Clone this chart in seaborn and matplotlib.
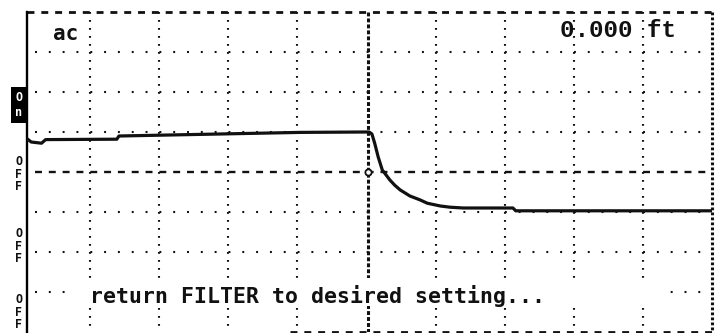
import matplotlib
matplotlib.use("Agg")
import matplotlib.pyplot as plt
import seaborn as sns
import pandas as pd
from matplotlib.patches import Rectangle

# Trace read in screen divisions (x: horizontal divisions, y: vertical divisions from centre)
trace_x = [-0.90, -0.85, -0.70, -0.64, 0.39, 0.42, 2.17, 3.04, 3.98, 4.04, 4.08, 4.12,
           4.17, 4.23, 4.34, 4.41, 4.49, 4.63, 4.78, 4.88, 5.07, 5.21, 5.40, 6.12, 6.16, 9.00]
trace_y = [0.82, 0.75, 0.72, 0.81, 0.82, 0.90, 0.96, 0.99, 1.00, 1.00, 0.95, 0.72,
           0.38, 0.05, -0.20, -0.33, -0.45, -0.60, -0.70, -0.78, -0.85, -0.88, -0.90, -0.90, -0.97, -0.97]

mode_label = "ac"
distance_label = "0.000 ft"
status_message = "return FILTER to desired setting..."
channel_labels = ["On", "OFF", "OFF", "OFF"]
channel_levels = [1.675, -0.05, -1.85, -3.5]

grid_x = [0, 1, 2, 3, 5, 6, 7, 8]
cursor_x = 4
grid_y = [3, 2, 1, -1, -2, -3]

sns.set_theme(style="white")
plt.rcParams["font.family"] = ["DejaVu Sans Mono", "DejaVu Sans"]
plt.rcParams["lines.scale_dashes"] = False

fig = plt.figure(figsize=(7.18, 3.33), dpi=100)
fig.patch.set_facecolor("white")
ax = fig.add_axes([27 / 718, 1 / 333, 685 / 718, 320 / 333])
ax.set_facecolor("white")
ax.set_xlim(-0.91, 9.0)
ax.set_ylim(-4, 4)
ax.set_xticks([])
ax.set_yticks([])
for side in ("top", "right", "bottom"):
    ax.spines[side].set_visible(False)
ax.spines["left"].set_color("black")
ax.spines["left"].set_linewidth(1.7)

ink = "#111111"

# dotted graticule
for gy in grid_y:
    ax.plot([-0.8, 9.0], [gy, gy], color=ink, lw=1.5, dashes=(1.4, 8.55), zorder=1)
for gx in grid_x:
    ax.plot([gx, gx], [4, -4], color=ink, lw=1.5, dashes=(1.3, 4.46), zorder=1)

# centre line, cursor and frame
ax.plot([-0.8, 9.0], [0, 0], color=ink, lw=1.7, dashes=(5.0, 4.95), zorder=1)
ax.plot([cursor_x + 0.02] * 2, [4, -4], color=ink, lw=2.2, dashes=(2.8, 1.5), zorder=1)
ax.plot([-0.91, 9.0], [4, 4], color=ink, lw=2.0, dashes=(5.0, 4.95), zorder=1, clip_on=False)
ax.plot([2.9, 9.0], [-4, -4], color=ink, lw=2.0, dashes=(5.0, 4.95), zorder=1, clip_on=False)
ax.plot([9.0, 9.0], [4, -4], color=ink, lw=2.2, dashes=(2.0, 1.6), zorder=1, clip_on=False)
ax.plot([cursor_x + 0.02], [0], marker="o", ms=4.5, mfc="white", mec=ink, mew=1.3, zorder=3)

# waveform
df = pd.DataFrame({"x": trace_x, "y": trace_y})
sns.lineplot(data=df, x="x", y="y", ax=ax, color=ink, lw=2.3, sort=False,
             estimator=None, zorder=4)
ax.set_xlabel("")
ax.set_ylabel("")

# readouts
ax.text(-0.535, 3.3, mode_label, fontsize=15, fontweight="bold", color=ink,
        ha="left", va="baseline")
ax.text(6.80, 3.375, distance_label, fontsize=17.5, color=ink, ha="left", va="baseline",
        family=["Liberation Mono", "DejaVu Sans Mono"], fontweight="bold")

# message strip
ax.add_patch(Rectangle((-0.2, -3.35), 8.45, 0.7, facecolor="white", edgecolor="none", zorder=2))
ax.text(0.0, -3.275, status_message, fontsize=15.5, fontweight="bold", color=ink,
        ha="left", va="baseline", zorder=5)

# channel switch markers on the left edge
for lab, lv in zip(channel_labels, channel_levels):
    if lab == "On":
        ax.text(-1.03, lv, "O\nn", fontsize=8.5, fontweight="bold", color="white",
                ha="center", va="center", linespacing=1.15, clip_on=False,
                bbox=dict(boxstyle="square,pad=0.35", facecolor="black", edgecolor="none"))
    else:
        ax.text(-1.03, lv, "\n".join(lab), fontsize=8.5, fontweight="bold", color=ink,
                ha="center", va="center", linespacing=0.95, clip_on=False)

fig.savefig("out.png", dpi=100, facecolor="white")
